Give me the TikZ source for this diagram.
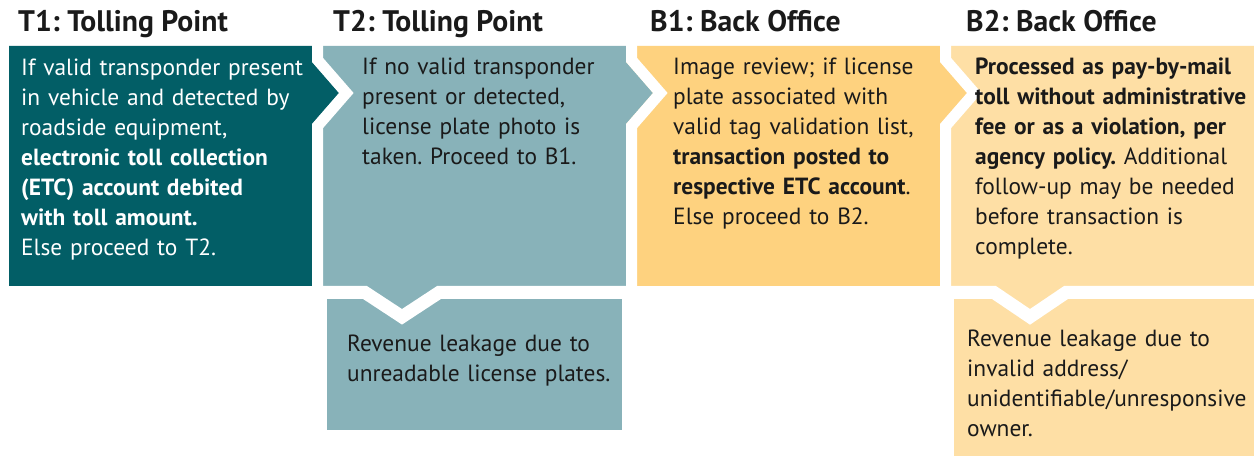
\documentclass[tikz,border=0pt]{standalone}
\usepackage{fontspec}
\setmainfont{PT Sans}
\definecolor{cT1}{HTML}{025E66}
\definecolor{cT2}{HTML}{88B2B9}
\definecolor{cB1}{HTML}{FED27F}
\definecolor{cB2}{HTML}{FEDFA5}
\definecolor{ink}{HTML}{1A1A1A}
\frenchspacing
\begin{document}
\begin{tikzpicture}[x=1bp,y=-1bp,line join=miter,
  band/.style={draw=white,line width=11bp},
  vband/.style={draw=white,line width=13bp},
  head/.style={anchor=base west,inner sep=0pt,font=\fontsize{29.8}{30}\selectfont\bfseries,text=ink},
  body/.style={anchor=base west,inner sep=0pt,text width=300bp,align=left,font=\fontsize{23.5}{30}\selectfont,text=ink}]
\fill[white] (0,0) rectangle (1254,456);
\useasboundingbox (0,0) rectangle (1254,456);
% boxes
\fill[cB2] (940,46) -- (1254,46) -- (1254,286) -- (1064,286) -- (1030,309) -- (996,286) -- (940,286) -- cycle;
\fill[cB2] (954,286) rectangle (1254,456);
\fill[cB1] (626,46) -- (940,46) -- (940,62) -- (967,93) -- (940,124) -- (940,286) -- (626,286) -- cycle;
\fill[cT2] (327,286) rectangle (622,430);
\fill[cT2] (312,46) -- (626,46) -- (626,62) -- (653,93) -- (626,124) -- (626,286) -- (437,286) -- (402,309) -- (367,286) -- (312,286) -- cycle;
\fill[cT1] (9,46) -- (312,46) -- (312,62) -- (339,93) -- (312,124) -- (312,286) -- (9,286) -- cycle;
% white chevron gaps
\draw[band] (317.5,40) -- (317.5,59.9) -- (346.3,93) -- (317.5,126.1) -- (317.5,292);
\draw[band] (631.5,40) -- (631.5,59.9) -- (660.3,93) -- (631.5,126.1) -- (631.5,292);
\draw[band] (945.5,40) -- (945.5,59.9) -- (974.3,93) -- (945.5,126.1) -- (945.5,292);
\draw[vband] (320,292.5) -- (365,292.5) -- (402,316.8) -- (439,292.5) -- (630,292.5);
\draw[vband] (948,292.5) -- (994,292.5) -- (1030,316.85) -- (1066,292.5) -- (1255,292.5);
% headings
\node[head] (h1) at (18,32) {T1: Tolling Point};
\node[head] (h2) at (333,32) {T2: Tolling Point};
\node[head] (h3) at (650,32) {B1: Back Office};
\node[head] (h4) at (966,32) {B2: Back Office};
% texts
\node[body,text=white] (t1) at (21,76) {If valid transponder present\\in vehicle and detected by\\roadside equipment,\\\textbf{electronic toll collection}\\\textbf{(ETC) account debited}\\\textbf{with toll amount.}\\Else proceed to T2.};
\node[body] (t2) at (362,75) {If no valid transponder\\present or detected,\\license plate photo is\\taken. Proceed to B1.};
\node[body] (b1) at (673,75) {Image review; if license\\plate associated with\\valid tag validation list,\\\textbf{transaction posted to}\\\textbf{respective ETC account}.\\Else proceed to B2.};
\node[body] (b2) at (975,75) {\textbf{Processed as pay-by-mail}\\\textbf{toll without administrative}\\\textbf{fee or as a violation, per}\\\textbf{agency policy.} Additional\\follow-up may be needed\\before transaction is\\complete.};
\node[body] (t2l) at (347,352) {Revenue leakage due to\\unreadable license plates.};
\node[body] (b2l) at (967,347) {Revenue leakage due to\\invalid address/\\unidentifiable/unresponsive\\owner.};
\end{tikzpicture}
\end{document}
